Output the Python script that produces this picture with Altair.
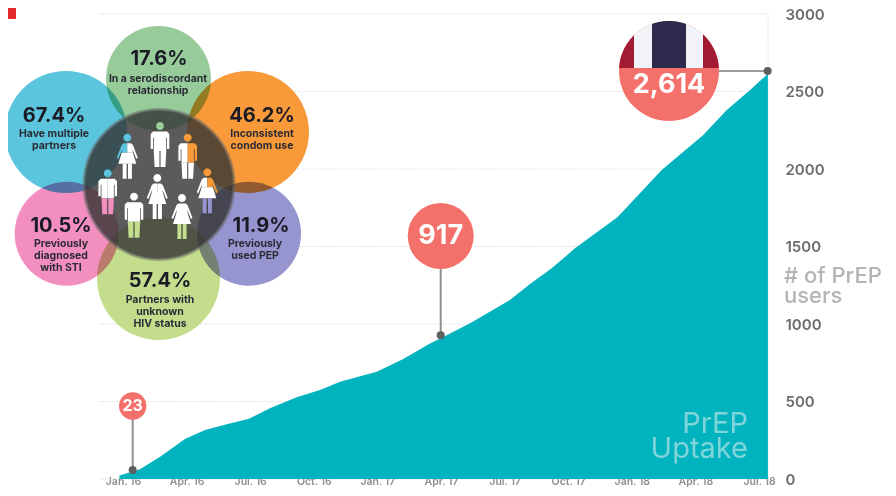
import math
import altair as alt
import pandas as pd

# ---- values ----
curve_month = [-0.17, 0.8, 1.75, 2.92, 3.87, 4.89, 5.91, 6.93, 8.19, 9.29, 10.24, 11.97, 13.22, 14.48,
               14.99, 16.37, 18.25, 19.2, 20.22, 21.32, 23.32, 24.23, 25.41, 27.37, 28.48, 29.58, 30.42]
curve_users = [23, 63, 144, 258, 316, 353, 387, 456, 527, 574, 628, 692, 774, 875,
               908, 1005, 1155, 1258, 1359, 1488, 1688, 1821, 1994, 2219, 2381, 2510, 2614]
tick_months = [0, 3, 6, 9, 12, 15, 18, 21, 24, 27, 30]
tick_labels = ["Jan. 16", "Apr. 16", "Jul. 16", "Oct. 16", "Jan. 17", "Apr. 17",
               "Jul. 17", "Oct. 17", "Jan. 18", "Apr. 18", "Jul. 18"]
user_ticks = [0, 500, 1000, 1500, 2000, 2500, 3000]
petal_pct = ["17.6%", "67.4%", "46.2%", "10.5%", "11.9%", "57.4%"]
petal_lines = [["In a serodiscordant", "relationship"], ["Have multiple", "partners"],
               ["Inconsistent", "condom use"], ["Previously", "diagnosed", "with STI"],
               ["Previously", "used PEP"], ["Partners with", "unknown", "HIV status"]]
callouts = ["23", "917", "2,614"]

# ---- layout: page pixels to the chart's scales ----
X0, X1, Y0, Y3000 = 119.0, 768.0, 479.0, 14.0
to_m = lambda px: (px - 123.0) / 21.2
to_u = lambda py: (Y0 - py) / ((Y0 - Y3000) / 3000)
xs = alt.Scale(domain=[to_m(X0), to_m(X1)])
ys = alt.Scale(domain=[0, 3000], nice=False)
FONT = "Inter"
X = lambda f="m": alt.X(f"{f}:Q", scale=xs, title=None)
Y = lambda f="u": alt.Y(f"{f}:Q", scale=ys, title=None)


def circles(rows, **mark):
    df = pd.DataFrame([{"m": to_m(x), "u": to_u(y), "s": 4 * r * r, "c": c} for x, y, r, c in rows])
    return alt.Chart(df).mark_circle(**mark).encode(
        x=X(), y=Y(), size=alt.Size("s:Q", scale=None), color=alt.Color("c:N", scale=None))


def text(rows, size, weight, color, align="center"):
    df = pd.DataFrame([{"m": to_m(x), "u": to_u(y), "t": t} for x, y, t in rows])
    return alt.Chart(df).mark_text(font=FONT, fontSize=size, fontWeight=weight, color=color,
                                   align=align, baseline="middle").encode(x=X(), y=Y(), text="t:N")


def rule(rows, **mark):
    df = pd.DataFrame([{"m": to_m(a), "m2": to_m(b), "u": to_u(c), "u2": to_u(d)} for a, b, c, d in rows])
    return alt.Chart(df).mark_rule(**mark).encode(x=X(), x2="m2:Q", y=Y(), y2="u2:Q")


def poly(*pts_lists):
    return " ".join("M" + " L".join(f"{x:.2f} {y:.2f}" for x, y in pts) + " Z" for pts in pts_lists)


def mirror(pts):
    return [(-x, y) for x, y in pts]


# ---- base chart: area with axes ----
area_df = pd.DataFrame({"m": curve_month, "u": curve_users})
label_expr = "[" + ",".join(f"'{t}'" for t in tick_labels) + "][datum.value / 3]"
area = alt.Chart(area_df).mark_area(color="#00b3bf", interpolate="linear").encode(
    x=alt.X("m:Q", scale=xs, title=None, axis=alt.Axis(
        values=tick_months, labelExpr=label_expr, grid=False, domain=False, ticks=False, labelPadding=-3,
        labelFont=FONT, labelFontSize=10.5, labelFontWeight=600, labelColor="#8e8e8e",
        labelOverlap=False, labelFlush=False)),
    y=alt.Y("u:Q", scale=ys, title=None, axis=alt.Axis(
        orient="right", values=user_ticks, format="d", grid=False, domain=False, ticks=False, labelPadding=17,
        labelFont=FONT, labelFontSize=15, labelFontWeight=600, labelColor="#6c6c6c",
        labelOverlap=False, labelFlush=False)))

grid_rows = [(100, X1, Y0 - (Y0 - Y3000) * v / 3000, Y0 - (Y0 - Y3000) * v / 3000) for v in user_ticks]
grid = rule(grid_rows + [(X1, X1, Y3000, Y0)], color="#d4d4d4", strokeDash=[1, 1.5], strokeWidth=1)

corner = alt.Chart(pd.DataFrame({"m": [to_m(0)], "m2": [to_m(16)], "u": [to_u(0)], "u2": [to_u(19)]})).mark_rect(
    color="#e32a2c").encode(x=X(), x2="m2:Q", y=Y(), y2="u2:Q")

# ---- petals ----
petals = [(158.5, 78.5, 52.5, "#97cc9a"), (66, 132, 61, "#5ac5dc"), (248, 132, 61, "#f89a3a"),
          (66.7, 233.7, 52, "#f28fbf"), (249, 233.7, 52, "#9695cf"), (158.5, 278.5, 61.5, "#c3dd8d")]
petal_under = circles([(x, y, r, "#ffffff") for x, y, r, _ in petals], opacity=1)
petal_fill = circles(petals, opacity=1, blend="multiply")
hub = circles([(159, 184.5, 75, "#333333")], opacity=0.8, stroke="#666666", strokeWidth=3, strokeOpacity=0.6)

pct_xy = [(159, 59), (54, 116), (262, 116), (61, 226), (261, 226), (160, 281)]
line_xy = [(158, 79), (54, 134), (262, 134), (61, 244), (255, 244), (160, 299.5)]
pct_text = text([(x, y, t) for (x, y), t in zip(pct_xy, petal_pct)], 20, 700, "#1b1b26")
line_rows = [(x, y + 12.2 * i, t) for (x, y), lines in zip(line_xy, petal_lines) for i, t in enumerate(lines)]
line_text = text(line_rows, 10.5, 700, "#2b2b35")

# ---- people ----
head = [(3.9 * math.cos(i * math.pi / 10), 3.9 * math.sin(i * math.pi / 10)) for i in range(20)]
m_up = [(0, 5.5), (-7, 5.5), (-9.3, 8), (-9.3, 23), (-7, 23), (-7, 11.5), (-6.2, 11.5), (-6.2, 25), (0, 25)]
m_leg = [(-6.2, 25), (-0.6, 25), (-0.6, 41), (-5.4, 41)]
w_up = [(0, 5.5), (-3.5, 5.5), (-5.5, 7), (-10.5, 20), (-9, 21), (-5, 11.5), (-5.6, 15), (0, 15)]
w_skirt = [(-5.6, 15), (-9, 26), (9, 26), (5.6, 15)]
w_leg = [(-4.6, 26), (-0.7, 26), (-0.7, 41), (-4.6, 41)]
parts = {
    "head": poly(head),
    "m_l": poly(m_up), "m_r": poly(mirror(m_up)), "m_leg": poly(m_leg, mirror(m_leg)),
    "w_l": poly(w_up), "w_r": poly(mirror(w_up)), "w_skirt": poly(w_skirt), "w_leg": poly(w_leg, mirror(w_leg)),
}
W = "#ffffff"
people = [  # head x, head y, sex, head, left, right, legs colours
    (160, 126, "m", "#97cc9a", W, W, W),
    (127.3, 137.7, "w", "#5ac5dc", "#5ac5dc", W, W),
    (187.7, 137.7, "m", "#f89a3a", W, "#f89a3a", W),
    (107.7, 173.3, "m", "#5ac5dc", W, W, "#f28fbf"),
    (157.3, 178, "w", W, W, W, W),
    (207.3, 172.3, "w", "#f89a3a", W, "#f89a3a", "#9695cf"),
    (134, 196.7, "m", W, W, W, "#c3dd8d"),
    (182, 198, "w", W, W, W, "#c3dd8d"),
]
rows = []
for x, y, sex, ch, cl, cr, cg in people:
    base = {"m": to_m(x), "u": to_u(y)}
    rows.append({**base, "p": "head", "c": ch})
    rows.append({**base, "p": f"{sex}_l", "c": cl})
    rows.append({**base, "p": f"{sex}_r", "c": cr})
    if sex == "w":
        rows.append({**base, "p": "w_skirt", "c": W})
    rows.append({**base, "p": f"{sex}_leg", "c": cg})


def glyphs(df, shapes):
    names = list(shapes)
    return alt.Chart(df).mark_point(filled=True, size=4, opacity=1, strokeWidth=0).encode(
        x=X(), y=Y(),
        shape=alt.Shape("p:N", scale=alt.Scale(domain=names, range=[shapes[n] for n in names]), legend=None),
        color=alt.Color("c:N", scale=None))


people_layer = glyphs(pd.DataFrame(rows), parts)

# ---- call-outs ----
CORAL = "#f4716b"
stems = rule([(132.7, 132.7, 406, 470), (440.7, 440.7, 236, 335.3)], color="#8f8f8f", strokeWidth=2)
stem3 = rule([(669, 768, 71, 71)], color="#7a7a7a", strokeWidth=1.6)
dots = circles([(132.7, 470, 4, "#5f5f5f"), (440.7, 335.3, 4, "#5f5f5f"), (767.7, 71, 4, "#5f5f5f")], opacity=1)
bubbles = circles([(132.7, 406, 13.7, CORAL), (440.7, 236, 33, CORAL), (669, 71, 50, CORAL)], opacity=1)

R, CUT = 50.0, -3.0


def strip(a, b):
    """Part of the round badge above the cut, between two verticals."""
    n = 24
    top = [(a + (b - a) * i / n, -math.sqrt(max(R * R - (a + (b - a) * i / n) ** 2, 0))) for i in range(n + 1)]
    return poly(top + [(b, CUT), (a, CUT)])


edge = math.sqrt(R * R - CUT * CUT)
flag_parts = {"r1": (strip(-edge, -35), "#a31a33"), "w1": (strip(-35, -17), "#f2f3f8"),
              "n": (strip(-17, 17), "#2e2a4e"), "w2": (strip(17, 34), "#f2f3f8"), "r2": (strip(34, edge), "#a31a33")}
flag = glyphs(pd.DataFrame([{"m": to_m(669), "u": to_u(71), "p": k, "c": v[1]} for k, v in flag_parts.items()]),
              {k: v[0] for k, v in flag_parts.items()})

call_text = alt.layer(
    text([(132.7, 406, callouts[0])], 16, 700, "#ffffff"),
    text([(440.7, 236, callouts[1])], 27, 700, "#ffffff"),
    text([(669, 85, callouts[2])], 27, 700, "#ffffff"),
)

y_title = text([(784, 276, "# of PrEP"), (784, 296, "users")], 22, 500, "#b4b4b4", "left")
wordmark = text([(748, 424, "PrEP"), (748, 449, "Uptake")], 29, 400, "#7fd5da", "right")

chart = alt.layer(
    grid, area, corner, wordmark, y_title,
    stems, stem3, dots, bubbles, flag, call_text,
    petal_under, petal_fill, hub, people_layer, pct_text, line_text,
).resolve_scale(shape="independent").properties(
    width=X1 - X0, height=Y0 - Y3000,
    padding={"left": X0 - 8, "top": Y3000 - 8, "right": 888 - X1, "bottom": 9},
    autosize=alt.AutoSizeParams(type="none"),
    background="#ffffff",
).configure_view(stroke=None)

chart.save("out.html", embed_options={"renderer": "svg", "actions": False})
